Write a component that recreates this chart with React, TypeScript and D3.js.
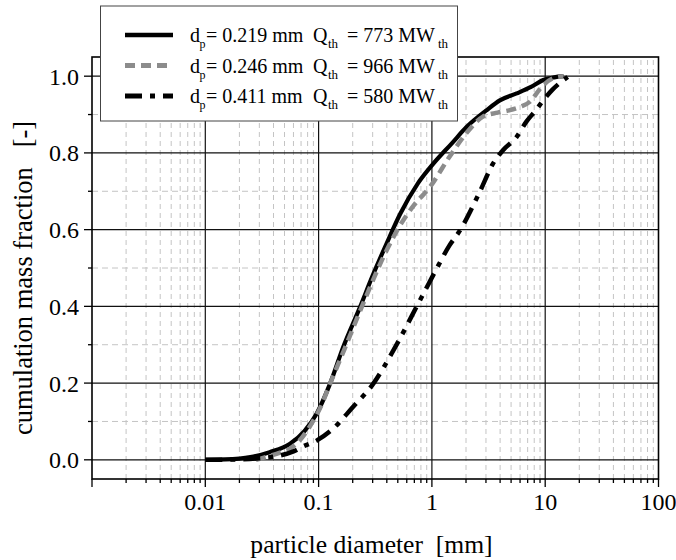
import React from 'react';
import * as d3 from 'd3';

// ---- data ----
const diamA = [0.01, 0.015, 0.025, 0.037, 0.056, 0.075, 0.096, 0.126, 0.165, 0.232, 0.3, 0.4, 0.523, 0.75, 1.03, 1.5, 2.03, 3.0, 3.98, 5.6, 7.5, 9.6, 12, 14.5];
const fracA = [0, 0.001, 0.007, 0.02, 0.042, 0.075, 0.12, 0.198, 0.294, 0.398, 0.48, 0.565, 0.64, 0.72, 0.772, 0.825, 0.868, 0.91, 0.937, 0.955, 0.972, 0.99, 0.997, 1.0];

const diamB = [0.028, 0.035, 0.045, 0.056, 0.07, 0.089, 0.105, 0.126, 0.17, 0.24, 0.385, 0.523, 0.7, 0.96, 1.43, 2.0, 2.8, 3.8, 4.8, 6.0, 7.3, 9.3, 11.6, 14.5];
const fracB = [0, 0.008, 0.018, 0.029, 0.055, 0.1, 0.14, 0.198, 0.29, 0.398, 0.537, 0.611, 0.665, 0.711, 0.79, 0.85, 0.894, 0.905, 0.911, 0.92, 0.933, 0.972, 0.994, 1.0];

const diamC = [0.01, 0.02, 0.03, 0.045, 0.06, 0.073, 0.096, 0.134, 0.2, 0.303, 0.457, 0.785, 1.06, 1.43, 1.77, 2.64, 3.46, 4.24, 5.6, 6.8, 8.2, 9.6, 11.6, 15.8];
const fracC = [0, 0.001, 0.004, 0.011, 0.022, 0.035, 0.05, 0.081, 0.137, 0.198, 0.285, 0.416, 0.489, 0.559, 0.598, 0.698, 0.772, 0.807, 0.842, 0.881, 0.91, 0.937, 0.965, 0.998];

const dpLabels = ['0.219', '0.246', '0.411'];
const qLabels = ['773', '966', '580'];

const xTickValues = [0.01, 0.1, 1, 10, 100];
const xTickLabels = ['0.01', '0.1', '1', '10', '100'];
const yTickValues = [0, 0.2, 0.4, 0.6, 0.8, 1.0];
const yTickLabels = ['0.0', '0.2', '0.4', '0.6', '0.8', '1.0'];
const yMinorValues = [0.1, 0.3, 0.5, 0.7, 0.9];

const FONT = "'Liberation Serif', 'Times New Roman', serif";

const styles = [
  { stroke: '#000', width: 4.2, dash: undefined as string | undefined },
  { stroke: '#8c8c8c', width: 4.5, dash: '10,6' },
  { stroke: '#000', width: 4.5, dash: '17,8,5,8' },
];

export default function App() {
  const x = d3.scaleLog().domain([0.001, 100]).range([92, 658.5]);
  const y = d3.scaleLinear().domain([-0.05, 1.05]).range([479, 57]);

  const [x0, x1] = x.range();
  const [yb, yt] = y.range();

  const decades = [0.001, 0.01, 0.1, 1, 10];
  const minorX: number[] = [];
  decades.forEach((d) => {
    for (let k = 2; k <= 9; k++) minorX.push(d * k);
  });
  const majorX = [0.01, 0.1, 1, 10];

  const line = d3
    .line<[number, number]>()
    .x((d) => x(d[0]))
    .y((d) => y(d[1]))
    .curve(d3.curveMonotoneX);

  const series: [number, number][][] = [
    diamA.map((d, i) => [d, fracA[i]] as [number, number]),
    diamB.map((d, i) => [d, fracB[i]] as [number, number]),
    diamC.map((d, i) => [d, fracC[i]] as [number, number]),
  ];

  const legendRows = [42, 72.5, 103];

  return (
    <svg
      width={676}
      height={560}
      style={{ position: 'absolute', left: 0, top: 0, background: '#fff' }}
      fontFamily={FONT}
    >
      <rect x={0} y={0} width={676} height={560} fill="#fff" />
      {/* minor grid */}
      {minorX.map((v, i) => (
        <line key={'mx' + i} x1={x(v)} x2={x(v)} y1={yb} y2={yt} stroke="#c4c4c4" strokeWidth={1} strokeDasharray="5,4" />
      ))}
      {yMinorValues.map((v, i) => (
        <line key={'my' + i} x1={x0} x2={x1} y1={y(v)} y2={y(v)} stroke="#c4c4c4" strokeWidth={1} strokeDasharray="6,4" />
      ))}
      {/* major grid */}
      {majorX.map((v, i) => (
        <line key={'Mx' + i} x1={x(v)} x2={x(v)} y1={yb} y2={yt} stroke="#111" strokeWidth={1.2} />
      ))}
      {yTickValues.map((v, i) => (
        <line key={'My' + i} x1={x0} x2={x1} y1={y(v)} y2={y(v)} stroke="#111" strokeWidth={1.2} />
      ))}
      {/* frame */}
      <rect x={x0} y={yt} width={x1 - x0} height={yb - yt} fill="none" stroke="#000" strokeWidth={1.6} />
      {/* y ticks */}
      {yTickValues.map((v, i) => (
        <line key={'yt' + i} x1={x0 - 8} x2={x0} y1={y(v)} y2={y(v)} stroke="#000" strokeWidth={1.3} />
      ))}
      {yMinorValues.map((v, i) => (
        <line key={'ym' + i} x1={x0 - 4} x2={x0} y1={y(v)} y2={y(v)} stroke="#000" strokeWidth={1.3} />
      ))}
      {yTickValues.map((v, i) => (
        <text key={'yl' + i} x={79} y={y(v) + 8.5} textAnchor="end" fontSize={24} fill="#000">
          {yTickLabels[i]}
        </text>
      ))}
      {/* x ticks */}
      {[0.001, ...majorX, 100].map((v, i) => (
        <line key={'xt' + i} x1={x(v)} x2={x(v)} y1={yb} y2={yb + 8} stroke="#000" strokeWidth={1.3} />
      ))}
      {minorX.map((v, i) => (
        <line key={'xm' + i} x1={x(v)} x2={x(v)} y1={yb} y2={yb + 4} stroke="#000" strokeWidth={1.3} />
      ))}
      {xTickValues.map((v, i) => (
        <text key={'xl' + i} x={x(v)} y={510} textAnchor="middle" fontSize={24} fill="#000">
          {xTickLabels[i]}
        </text>
      ))}
      {/* axis titles */}
      <text x={371.5} y={553} textAnchor="middle" fontSize={25.6} fill="#000" style={{ whiteSpace: 'pre' }}>
        {'particle diameter  [mm]'}
      </text>
      <text
        transform="translate(32,278) rotate(-90)"
        textAnchor="middle"
        fontSize={26.5}
        fill="#000"
        style={{ whiteSpace: 'pre' }}
      >
        {'cumulation mass fraction   [-]'}
      </text>
      {/* curves */}
      {series.map((s, i) => (
        <path
          key={'s' + i}
          d={line(s) || ''}
          fill="none"
          stroke={styles[i].stroke}
          strokeWidth={styles[i].width}
          strokeDasharray={styles[i].dash}
          strokeLinejoin="round"
        />
      ))}
      {/* legend */}
      <rect x={100.5} y={6} width={357} height={115} fill="#fff" stroke="#444" strokeWidth={1} />
      {legendRows.map((by, i) => (
        <g key={'lg' + i}>
          <line
            x1={125}
            x2={173}
            y1={by - 7}
            y2={by - 7}
            stroke={styles[i].stroke}
            strokeWidth={styles[i].width + 0.3}
            strokeDasharray={styles[i].dash}
          />
          <text x={190} y={by} fontSize={20} fill="#000">d</text>
          <text x={199.5} y={by + 6} fontSize={12} fill="#000">p</text>
          <text x={206} y={by} fontSize={20} fill="#000" style={{ whiteSpace: 'pre' }}>
            {'= ' + dpLabels[i] + ' mm'}
          </text>
          <text x={313} y={by} fontSize={20} fill="#000">Q</text>
          <text x={328} y={by + 6} fontSize={13} fill="#000">th</text>
          <text x={347} y={by} fontSize={20} fill="#000" style={{ whiteSpace: 'pre' }}>
            {'= ' + qLabels[i] + ' MW'}
          </text>
          <text x={438} y={by + 6} fontSize={13} fill="#000">th</text>
        </g>
      ))}
    </svg>
  );
}
